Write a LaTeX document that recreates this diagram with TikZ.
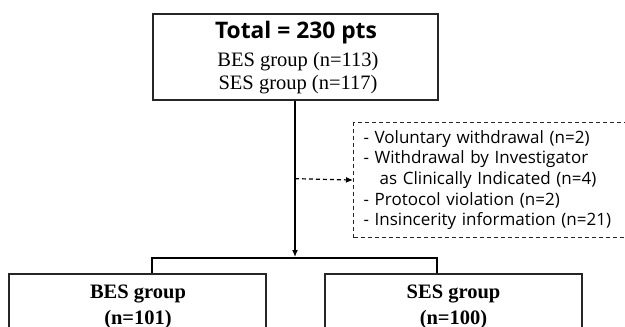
\documentclass[tikz,border=0pt]{standalone}
\usepackage{fontspec}
\setmainfont{Liberation Serif}
\newfontfamily\sansf{Open Sans}
\usetikzlibrary{arrows.meta}
\tikzset{
  box/.style={draw=black!85, line width=1.3pt, rectangle, inner sep=0pt},
  lbl/.style={inner sep=0pt, font=\fontsize{20.5}{24}\selectfont},
  blbl/.style={inner sep=0pt, font=\fontsize{20.5}{24}\selectfont\bfseries},
  excl/.style={draw=black!85, line width=1.1pt, dash pattern=on 4pt off 3pt, rectangle},
  flow/.style={line width=1.3pt, draw=black, -{Latex[length=7pt,width=6pt]}},
  dflow/.style={line width=1.2pt, draw=black, dash pattern=on 4pt off 3pt, -{Latex[length=7pt,width=6pt]}},
  bracket/.style={line width=2.2pt, draw=black},
}
\begin{document}
\begin{tikzpicture}[x=1pt,y=-1pt]
\useasboundingbox (0,0) rectangle (625,327);
\clip (0,0) rectangle (625,327);
% top box
\node[box, minimum width=285pt, minimum height=86pt] (total) at (295.5,57) {};
\node[inner sep=0pt, font=\sansf\fontsize{22.8}{26}\selectfont\bfseries] (t1) at (296,33) {Total = 230 pts};
\node[lbl] (t2) at (298,62) {BES group (n=113)};
\node[lbl] (t3) at (298,85) {SES group (n=117)};
% exclusion box
\node[excl, anchor=north west, minimum width=300pt, minimum height=115pt, text width=280pt, align=left, inner xsep=10pt, inner ysep=0pt, font=\sansf\fontsize{17}{20.7}\selectfont] (ex) at (353,122)
 {- Voluntary withdrawal (n=2)\\
  - Withdrawal by Investigator\\
  \hspace*{0.95em}as Clinically Indicated (n=4)\\
  - Protocol violation (n=2)\\
  - Insincerity information (n=21)};
% bottom boxes
\node[box, minimum width=257pt, minimum height=90pt] (bes) at (137.5,319) {};
\node[box, minimum width=257pt, minimum height=90pt] (ses) at (453.5,319) {};
\node[blbl] (b1) at (138,294) {BES group};
\node[blbl] (b2) at (138,320) {(n=101)};
\node[blbl] (s1) at (453.5,294) {SES group};
\node[blbl] (s2) at (453.5,320) {(n=100)};
% connectors
\coordinate (split) at (295,257);
\coordinate (bl) at (152,258);
\coordinate (br) at (437,258);
\draw[flow] (total.south -| split) -- (split);
\draw[dflow] (total.south -| split) ++(0,78) -- (ex.west);
\draw[bracket] (bl |- bes.north) -- (bl) -- (br) -- (br |- ses.north);
\end{tikzpicture}
\end{document}
